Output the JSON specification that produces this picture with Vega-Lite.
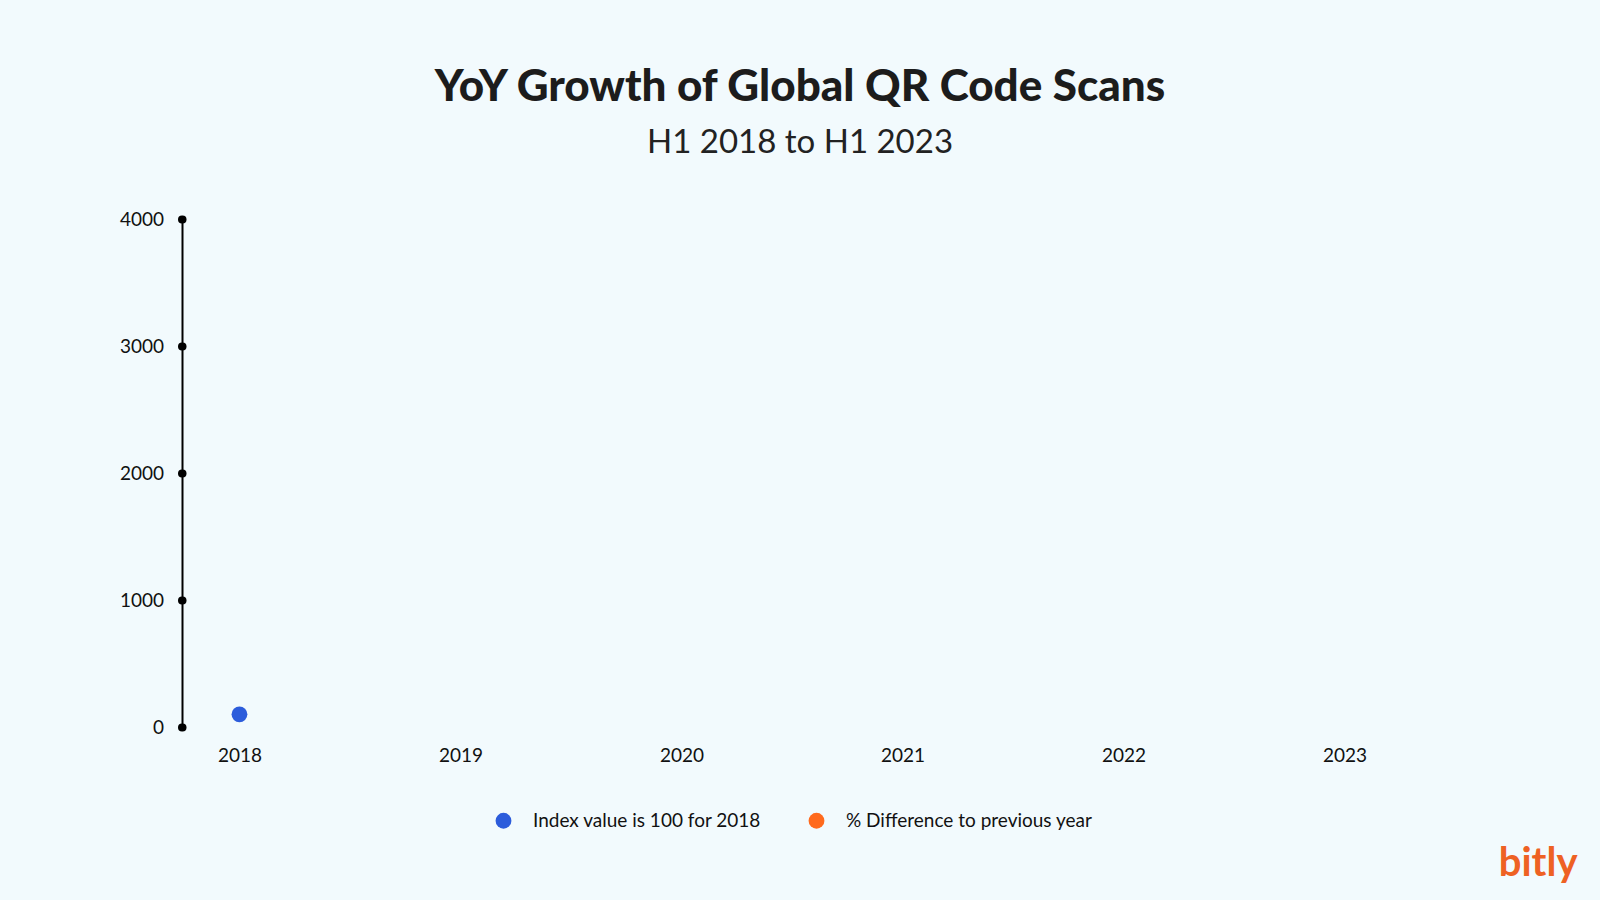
{
  "$schema": "https://vega.github.io/schema/vega-lite/v6.json",
  "width": 1220,
  "height": 508,
  "autosize": {"type": "none"},
  "padding": {"left": 182, "top": 219, "right": 198, "bottom": 173},
  "background": "#F2FAFD",
  "title": {
    "text": "YoY Growth of Global QR Code Scans",
    "subtitle": "H1 2018 to H1 2023",
    "anchor": "middle",
    "frame": "group",
    "dx": 8,
    "font": "Lato",
    "fontSize": 44,
    "fontWeight": 900,
    "color": "#1c1c1c",
    "subtitleFont": "Lato",
    "subtitleFontSize": 33,
    "subtitleFontWeight": 400,
    "subtitleColor": "#222222",
    "subtitlePadding": 17,
    "offset": 50
  },
  "data": {
    "values": [
      {"year": "2018", "series": "Index value is 100 for 2018", "value": 100}
    ]
  },
  "mark": {"type": "point", "filled": true, "size": 250, "opacity": 1},
  "encoding": {
    "x": {
      "field": "year",
      "type": "ordinal",
      "scale": {"type": "point", "domain": ["2018", "2019", "2020", "2021", "2022", "2023"], "padding": 0.26},
      "axis": {
        "domain": false,
        "ticks": false,
        "grid": false,
        "labelAngle": 0,
        "labelFont": "Lato",
        "labelFontSize": 19,
        "labelColor": "#111111",
        "labelPadding": 19,
        "title": "bitly",
        "titleFont": "Lato",
        "titleFontSize": 40,
        "titleFontWeight": "bold",
        "titleColor": "#EE6123",
        "titleX": 1395,
        "titleY": 148,
        "titleAlign": "right",
        "titleBaseline": "alphabetic"
      }
    },
    "y": {
      "field": "value",
      "type": "quantitative",
      "scale": {"domain": [0, 4000], "nice": false, "zero": true},
      "axis": {
        "values": [0, 1000, 2000, 3000, 4000],
        "format": "d",
        "grid": false,
        "domainColor": "#000000",
        "domainWidth": 2,
        "tickColor": "#000000",
        "tickSize": 0.5,
        "tickWidth": 8,
        "tickCap": "round",
        "labelFont": "Lato",
        "labelFontSize": 19,
        "labelColor": "#111111",
        "labelPadding": 18,
        "title": null
      }
    },
    "color": {
      "field": "series",
      "type": "nominal",
      "scale": {
        "domain": ["Index value is 100 for 2018", "% Difference to previous year"],
        "range": ["#2C5CDB", "#FF6A1D"]
      },
      "legend": {
        "title": null,
        "orient": "none",
        "direction": "horizontal",
        "legendX": 312,
        "legendY": 592,
        "symbolType": "circle",
        "symbolSize": 250,
        "symbolStrokeWidth": 0,
        "symbolOpacity": 1,
        "labelFont": "Lato",
        "labelFontSize": 19,
        "labelColor": "#111111",
        "labelOffset": 20,
        "labelLimit": 0,
        "columnPadding": 45
      }
    }
  },
  "config": {"view": {"stroke": null}}
}
